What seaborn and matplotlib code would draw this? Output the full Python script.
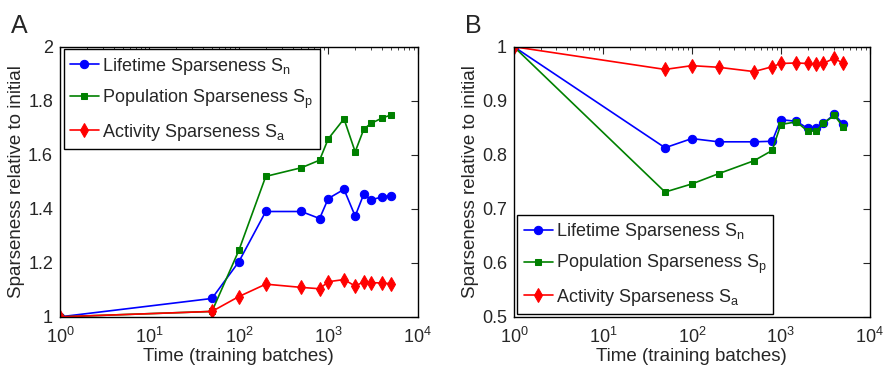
import numpy as np
import pandas as pd
import seaborn as sns
import matplotlib
matplotlib.use('Agg')
import matplotlib.pyplot as plt
from matplotlib.ticker import FormatStrFormatter, LogLocator

# training batches (x axis, shared by both panels)
batches = [1, 50, 100, 200, 500, 800, 1000, 1500, 2000, 2500, 3000, 4000, 5000]

# panel A
a_lifetime = [1.0, 1.068, 1.204, 1.39, 1.39, 1.364, 1.438, 1.472, 1.373, 1.455, 1.433, 1.444, 1.449]
a_population = [1.0, 1.02, 1.246, 1.52, 1.552, 1.58, 1.659, 1.733, 1.611, 1.695, 1.716, 1.736, 1.747]
a_activity = [1.0, 1.02, 1.075, 1.121, 1.109, 1.104, 1.13, 1.138, 1.114, 1.13, 1.127, 1.125, 1.123]

# panel B
b_lifetime = [1.0, 0.813, 0.830, 0.824, 0.824, 0.825, 0.865, 0.862, 0.849, 0.849, 0.858, 0.875, 0.857]
b_population = [1.0, 0.731, 0.746, 0.765, 0.789, 0.808, 0.856, 0.861, 0.844, 0.844, 0.858, 0.873, 0.852]
b_activity = [1.0, 0.958, 0.965, 0.962, 0.954, 0.963, 0.969, 0.970, 0.969, 0.968, 0.969, 0.979, 0.969]

labels = [r'Lifetime Sparseness S$_\mathregular{n}$',
          r'Population Sparseness S$_\mathregular{p}$',
          r'Activity Sparseness S$_\mathregular{a}$']

sns.set_style('white')
plt.rcParams['font.family'] = ['Liberation Sans', 'DejaVu Sans']
plt.rcParams['mathtext.fontset'] = 'custom'
plt.rcParams['mathtext.rm'] = 'Liberation Sans'
plt.rcParams['font.size'] = 12

fig = plt.figure(figsize=(8.83, 3.71), dpi=100)
ax_a = fig.add_axes([0.068, 0.146, 0.405, 0.728])
ax_b = fig.add_axes([0.582, 0.146, 0.403, 0.728])

styles = [('#0000ff', 'o', 6), ('#008000', 's', 4.5), ('#ff0000', 'd', 7)]


def draw(ax, series, ylim, yticks, legend_loc, bbox):
    for vals, lab, (col, mk, ms) in zip(series, labels, styles):
        sns.lineplot(x=batches, y=vals, ax=ax, color=col, marker=mk, markersize=ms,
                     markeredgecolor=col, linewidth=1.2, label=lab)
    ax.set_xscale('log')
    ax.set_xlim(1, 1e4)
    ax.set_ylim(*ylim)
    ax.set_yticks(yticks)
    ax.yaxis.set_major_formatter(FormatStrFormatter('%g'))
    ax.xaxis.set_minor_locator(LogLocator(base=10, subs=np.arange(2, 10), numticks=20))
    ax.tick_params(which='both', direction='in', top=True, right=True, labelsize=13)
    ax.tick_params(axis='x', pad=7)
    ax.tick_params(axis='y', pad=5)
    ax.tick_params(which='major', length=5)
    ax.tick_params(which='minor', length=2.5)
    for sp in ax.spines.values():
        sp.set_color('black')
        sp.set_linewidth(1.0)
    ax.set_xlabel('Time (training batches)', fontsize=13.5, labelpad=1)
    ax.set_ylabel('Sparseness relative to initial', fontsize=13.5, labelpad=2)
    leg = ax.legend(loc=legend_loc, bbox_to_anchor=bbox, fontsize=13, frameon=True,
                    fancybox=False, edgecolor='black', framealpha=1,
                    handlelength=1.6, handletextpad=0.2, borderpad=0.35, labelspacing=0.6,
                    borderaxespad=0)
    leg.get_frame().set_linewidth(1.0)


draw(ax_a, [a_lifetime, a_population, a_activity], (1, 2),
     [1, 1.2, 1.4, 1.6, 1.8, 2], 'upper left', (0.01, 0.99))
draw(ax_b, [b_lifetime, b_population, b_activity], (0.5, 1),
     [0.5, 0.6, 0.7, 0.8, 0.9, 1], 'lower left', (0.01, 0.01))

fig.text(0.012, 0.91, 'A', fontsize=18)
fig.text(0.527, 0.91, 'B', fontsize=18)

fig.savefig('out.png', dpi=100, facecolor='white')
